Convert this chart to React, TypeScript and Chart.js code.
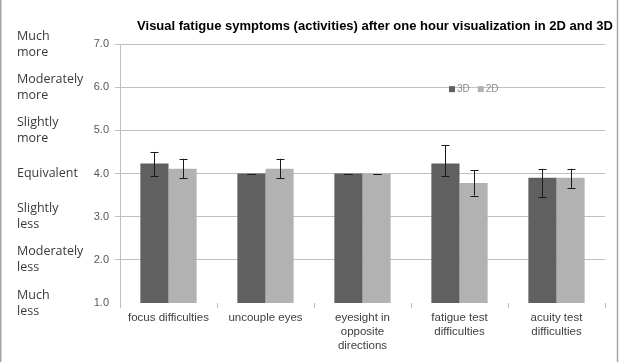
import React, { useEffect, useRef } from "react";
import { Chart, registerables } from "chart.js";

Chart.register(...registerables);

// Symptom categories (multi-line axis labels)
const categories: string[][] = [
  ["focus difficulties"],
  ["uncouple eyes"],
  ["eyesight in", "opposite", "directions"],
  ["fatigue test", "difficulties"],
  ["acuity test", "difficulties"],
];

// Mean ratings per condition
const values3D = [4.23, 4.0, 4.0, 4.23, 3.9];
const values2D = [4.11, 4.11, 4.0, 3.78, 3.9];

// Error bar extents above / below each mean
const err3DPlus = [0.27, 0, 0, 0.43, 0.21];
const err3DMinus = [0.29, 0, 0, 0.29, 0.44];
const err2DPlus = [0.23, 0.23, 0, 0.3, 0.21];
const err2DMinus = [0.22, 0.22, 0, 0.29, 0.23];

// Rating scale
const yMin = 1;
const yMax = 7;
const scaleWords: string[][] = [
  ["Much", "less"],
  ["Moderately", "less"],
  ["Slightly", "less"],
  ["Equivalent"],
  ["Slightly", "more"],
  ["Moderately", "more"],
  ["Much", "more"],
];

const seriesNames = ["3D", "2D"];
const seriesColors = ["#606060", "#b2b2b2"];
const titleText =
  "Visual fatigue symptoms (activities) after one hour visualization in 2D and 3D";

const errPlus = [err3DPlus, err2DPlus];
const errMinus = [err3DMinus, err2DMinus];

const framePlugin = {
  id: "frame",
  beforeDraw(chart: any) {
    const { ctx, width, height } = chart;
    ctx.save();
    ctx.fillStyle = "#ffffff";
    ctx.fillRect(0, 0, width, height);
    ctx.strokeStyle = "#a6a6a6";
    ctx.lineWidth = 1.5;
    ctx.beginPath();
    ctx.moveTo(0.75, 0);
    ctx.lineTo(0.75, height);
    ctx.moveTo(617.5, 0);
    ctx.lineTo(617.5, height);
    ctx.stroke();
    ctx.restore();
  },
};

const errorBarPlugin = {
  id: "errorBars",
  afterDatasetsDraw(chart: any) {
    const { ctx } = chart;
    const yScale = chart.scales.y;
    ctx.save();
    ctx.strokeStyle = "#1a1a1a";
    ctx.lineWidth = 1;
    chart.data.datasets.forEach((ds: any, di: number) => {
      const meta = chart.getDatasetMeta(di);
      meta.data.forEach((bar: any, i: number) => {
        const v = ds.data[i];
        const top = yScale.getPixelForValue(v + errPlus[di][i]);
        const bottom = yScale.getPixelForValue(v - errMinus[di][i]);
        const x = Math.round(bar.x) + 0.5;
        const cap = 4;
        ctx.beginPath();
        ctx.moveTo(x, top);
        ctx.lineTo(x, bottom);
        ctx.moveTo(x - cap, Math.round(top) + 0.5);
        ctx.lineTo(x + cap, Math.round(top) + 0.5);
        ctx.moveTo(x - cap, Math.round(bottom) + 0.5);
        ctx.lineTo(x + cap, Math.round(bottom) + 0.5);
        ctx.stroke();
      });
    });
    ctx.restore();
  },
};

const annotationPlugin = {
  id: "annotations",
  afterDraw(chart: any) {
    const { ctx } = chart;
    const yScale = chart.scales.y;
    ctx.save();

    // Title
    ctx.fillStyle = "#000000";
    ctx.font = "bold 13px 'Liberation Sans', Arial, sans-serif";
    ctx.textAlign = "center";
    ctx.textBaseline = "middle";
    ctx.fillText(titleText, 375, 26);

    // Verbal scale labels beside the numeric ticks
    ctx.fillStyle = "#3a3a3a";
    ctx.font = "12.5px 'Open Sans', sans-serif";
    ctx.textAlign = "left";
    const lineH = 16;
    scaleWords.forEach((lines, i) => {
      const yc = yScale.getPixelForValue(yMin + i);
      const start = yc - ((lines.length - 1) * lineH) / 2;
      lines.forEach((ln, k) => {
        ctx.fillText(ln, 17, start + k * lineH);
      });
    });

    // Legend
    ctx.font = "10px 'Liberation Sans', Arial, sans-serif";
    ctx.textBaseline = "middle";
    let lx = 449;
    const ly = yScale.getPixelForValue(6) + 2;
    chart.data.datasets.forEach((ds: any) => {
      ctx.fillStyle = ds.backgroundColor;
      ctx.fillRect(lx, ly - 3, 6, 6);
      ctx.fillStyle = "#8c8c8c";
      ctx.fillText(ds.label, lx + 8, ly);
      lx += 8 + ctx.measureText(ds.label).width + 8;
    });
    ctx.restore();
  },
};

export default function App() {
  const canvasRef = useRef<HTMLCanvasElement | null>(null);

  useEffect(() => {
    document.body.style.margin = "0";
    const canvas = canvasRef.current;
    if (!canvas) return;
    const chart = new Chart(canvas, {
      type: "bar",
      data: {
        labels: categories,
        datasets: [
          {
            label: seriesNames[0],
            data: values3D,
            backgroundColor: seriesColors[0],
            categoryPercentage: 0.58,
            barPercentage: 1.0,
          },
          {
            label: seriesNames[1],
            data: values2D,
            backgroundColor: seriesColors[1],
            categoryPercentage: 0.58,
            barPercentage: 1.0,
          },
        ],
      },
      options: {
        animation: false,
        responsive: false,
        devicePixelRatio: 1,
        layout: { padding: { top: 44, right: 16, left: 0, bottom: 0 } },
        plugins: {
          legend: { display: false },
          title: { display: false },
          tooltip: { enabled: false },
        },
        scales: {
          x: {
            grid: {
              display: true,
              drawOnChartArea: false,
              tickLength: 5,
              color: "#bfbfbf",
              offset: true,
            },
            border: { display: false },
            ticks: {
              color: "#404040",
              font: { size: 11.5, family: "'Liberation Sans', Arial, sans-serif", lineHeight: 1.22 },
              maxRotation: 0,
              autoSkip: false,
              padding: 3,
            },
            afterFit(scale: any) {
              scale.height = 59;
            },
          },
          y: {
            min: yMin,
            max: yMax,
            ticks: {
              stepSize: 1,
              color: "#595959",
              font: { size: 11, family: "'Liberation Sans', Arial, sans-serif" },
              padding: 6,
              callback: (v: any) => Number(v).toFixed(1),
            },
            grid: {
              tickLength: 5,
              color: (c: any) => (c.tick && c.tick.value === yMin ? "rgba(0,0,0,0)" : "#bfbfbf"),
            },
            border: { display: true, color: "#bfbfbf" },
            afterFit(scale: any) {
              scale.width = 120;
            },
          },
        },
      },
      plugins: [framePlugin, errorBarPlugin, annotationPlugin],
    });
    return () => chart.destroy();
  }, []);

  return (
    <div style={{ width: 621, height: 362 }}>
      <canvas ref={canvasRef} width={621} height={362} />
    </div>
  );
}
